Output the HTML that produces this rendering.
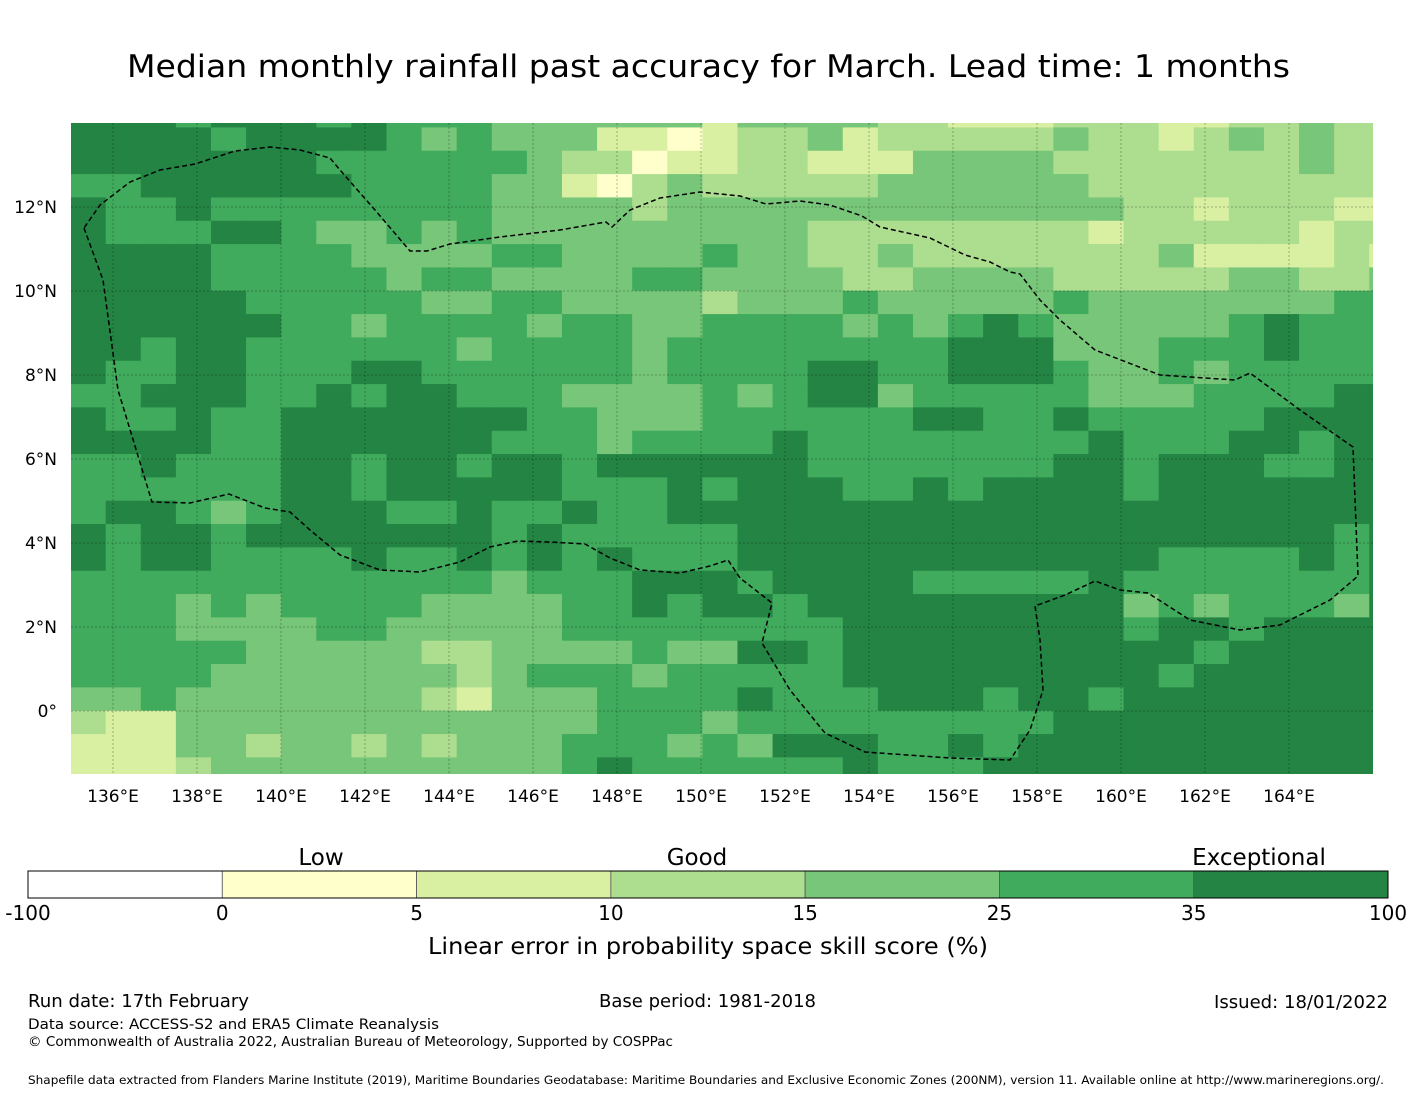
<!DOCTYPE html>
<html><head><meta charset="utf-8"><style>
body{margin:0;background:#fff;}
svg{display:block;font-family:"DejaVu Sans","Liberation Sans",sans-serif;}
</style></head><body>
<svg id="chart" width="1416" height="1095" viewBox="0 0 1416 1095" xmlns="http://www.w3.org/2000/svg">
<text x="127" y="77" textLength="1163" lengthAdjust="spacingAndGlyphs" font-size="31" fill="#000">Median monthly rainfall past accuracy for March. Lead time: 1 months</text>
<defs><clipPath id="mapclip"><rect x="71" y="123" width="1302" height="651"/></clipPath></defs>
<g id="cells" clip-path="url(#mapclip)"></g>
<g id="grid" clip-path="url(#mapclip)"></g>
<g id="eez" clip-path="url(#mapclip)"></g>
<g id="xt"></g>
<g id="yt"></g>
<g id="cbar"></g>
<text x="321" y="865" text-anchor="middle" font-size="23">Low</text>
<text x="697" y="865" text-anchor="middle" font-size="23">Good</text>
<text x="1259" y="865" text-anchor="middle" font-size="23">Exceptional</text>
<text x="428" y="954" textLength="560" lengthAdjust="spacingAndGlyphs" font-size="23">Linear error in probability space skill score (%)</text>
<text x="28" y="1007" textLength="221" lengthAdjust="spacingAndGlyphs" font-size="18">Run date: 17th February</text>
<text x="599" y="1007" textLength="217" lengthAdjust="spacingAndGlyphs" font-size="18">Base period: 1981-2018</text>
<text x="1214" y="1008" textLength="174" lengthAdjust="spacingAndGlyphs" font-size="18">Issued: 18/01/2022</text>
<text x="28" y="1029" textLength="411" lengthAdjust="spacingAndGlyphs" font-size="14.5">Data source: ACCESS-S2 and ERA5 Climate Reanalysis</text>
<text x="28" y="1046" textLength="645" lengthAdjust="spacingAndGlyphs" font-size="13">© Commonwealth of Australia 2022, Australian Bureau of Meteorology, Supported by COSPPac</text>
<text x="28" y="1084" textLength="1356" lengthAdjust="spacingAndGlyphs" font-size="11.5">Shapefile data extracted from Flanders Marine Institute (2019), Maritime Boundaries Geodatabase: Maritime Boundaries and Exclusive Economic Zones (200NM), version 11. Available online at http://www.marineregions.org/.</text>
</svg>
<script>
// skill category per grid cell (1:0-5, 2:5-10, 3:10-15, 4:15-25, 5:25-35, 6:35-100), rows north->south
const gridRows = [
"6665666565554444442444433"+"2223332233433",
"6666566665454442212334233"+"3334332343433",
"6666666555555433122332224"+"4443333333433",
"5566666655554421343333344"+"4444333333333",
"6556555555554444344444444"+"4444433233322",
"6555665445454444444443333"+"3333233333233",
"6666555544445544445443343"+"3333334222232",
"6666555554554444554444334"+"4443333344334",
"6666655555445544443444544"+"4445444444455",
"6666665545555455445555454"+"5654444456555",
"6656655555545555455555555"+"6664445556555",
"6556655566555555455556655"+"6665445455555",
"5566655656655544445456645"+"5555444555566",
"6556556666666554445555556"+"6556555556666",
"6666556666665554555565555"+"5555655566566",
"5565556656656656666665555"+"5556656665566",
"5555556656666655565666556"+"5666656666666",
"5665456665565565566666666"+"6666666666666",
"6566566666665655555666666"+"6666666666656",
"6566555565565656555666666"+"6666665555656",
"5555555555554555666566665"+"5555655555556",
"5554545555444455656656666"+"6666645455546",
"5554444554444455555555666"+"6666656656666",
"5555544444334444544665666"+"6666666566666",
"5555444444434555455555666"+"6666665666666",
"4454444444324445555655566"+"6566566666666",
"3224444444444445554555555"+"5556666666666",
"2224434434344455545466655"+"6566666666666",
"2223444444444456555555655"+"5666666666666"
];
const binEdges = [-100, 0, 5, 10, 15, 25, 35, 100];
const binColors = ["#ffffff","#ffffcc","#d9f0a3","#addd8e","#78c679","#41ab5d","#238443"];
const lonTicks = [136,138,140,142,144,146,148,150,152,154,156,158,160,162,164];
const latTicks = [12,10,8,6,4,2,0];
const lonStart = 134.99, latTop = 14.45, cellLon = 0.8357, cellLat = 0.5555;

const NS = "http://www.w3.org/2000/svg";
const xOf = lon => 71 + (lon - 135) * 42;
const yOf = lat => 711 - lat * 42;
function mk(tag, attrs, parent){const e=document.createElementNS(NS,tag);for(const k in attrs)e.setAttribute(k,attrs[k]);parent.appendChild(e);return e;}

const cells = document.getElementById("cells");
gridRows.forEach((row, r) => {
  for (let c = 0; c < row.length; c++) {
    const cat = +row[c];
    const x0 = xOf(lonStart + c * cellLon), x1 = xOf(lonStart + (c + 1) * cellLon);
    const y0 = yOf(latTop - r * cellLat), y1 = yOf(latTop - (r + 1) * cellLat);
    const e = mk("rect", {x: x0, y: y0, width: x1 - x0 + 0.6, height: y1 - y0 + 0.6, fill: binColors[cat]}, cells);
    
    
  }
});

const grid = document.getElementById("grid");
const xt = document.getElementById("xt");
lonTicks.forEach(lon => {
  const x = xOf(lon);
  const l = mk("line", {x1:x, x2:x, y1:123, y2:774, stroke:"#000", "stroke-opacity":0.35, "stroke-width":0.8, "stroke-dasharray":"2,2"}, grid);
  
  
  const t = mk("text", {x:x, y:802, "text-anchor":"middle", "font-size":17}, xt);
  t.textContent = lon + "°E";
  
  
});
const yt = document.getElementById("yt");
latTicks.forEach(lat => {
  const y = yOf(lat);
  const l = mk("line", {x1:71, x2:1373, y1:y, y2:y, stroke:"#000", "stroke-opacity":0.35, "stroke-width":0.8, "stroke-dasharray":"2,2"}, grid);
  
  
  const t = mk("text", {x:57, y:y + 6, "text-anchor":"end", "font-size":17}, yt);
  t.textContent = lat === 0 ? "0°" : lat + "°N";
  
  
});

// EEZ boundary (traced outline)
const eezPts = "84,228 103,280 118,390 152,502 190,503 229,494 265,508 290,512 310,530 340,555 380,570 420,572 460,562 490,547 518,541 550,542 585,544 610,558 640,570 680,573 710,566 728,560 740,578 772,603 762,643 790,690 825,733 865,752 950,758 1010,760 1030,730 1043,690 1040,640 1035,606 1065,595 1095,581 1120,590 1148,593 1190,620 1240,630 1280,625 1330,600 1358,576 1353,447 1300,410 1250,373 1235,380 1160,375 1095,350 1060,320 1040,300 1020,274 1010,272 990,262 965,255 930,238 880,227 862,216 830,205 800,201 766,204 740,196 700,192 660,198 630,210 612,227 606,222 560,230 500,237 450,244 427,251 410,251 375,210 340,170 330,158 300,150 270,147 235,151 195,164 160,170 130,182 100,205 84,228";
const eez = mk("polyline", {points: eezPts, fill:"none", stroke:"#000", "stroke-width":1.5, "stroke-dasharray":"5,3"}, document.getElementById("eez"));



// colorbar
const cbar = document.getElementById("cbar");
const cbX0 = 28, cbW = 1360, nb = binColors.length;
binColors.forEach((col, i) => {
  const seg = mk("rect", {x: cbX0 + i * cbW / nb, y: 871, width: cbW / nb, height: 27, fill: col, stroke:"#555", "stroke-width":0.8}, cbar);
  
  
});
const outline = mk("rect", {x: cbX0, y: 871, width: cbW, height: 27, fill:"none", stroke:"#000", "stroke-width":1}, cbar);


binEdges.forEach((v, i) => {
  const t = mk("text", {x: cbX0 + i * cbW / nb, y: 920, "text-anchor":"middle", "font-size":20}, cbar);
  t.textContent = v;
  
  
});
</script>
</body></html>
